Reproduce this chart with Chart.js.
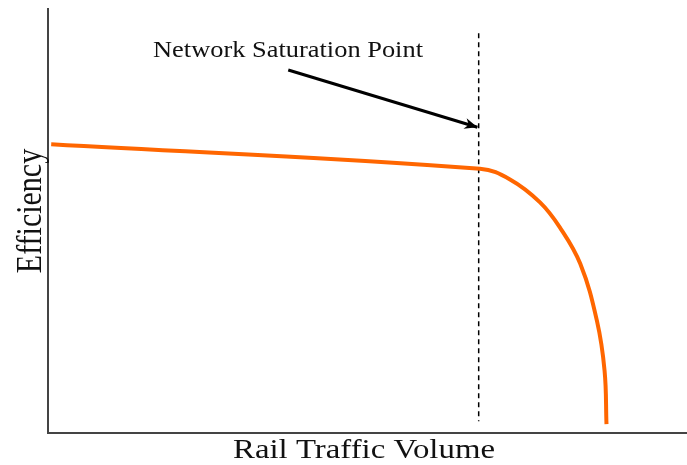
<!DOCTYPE html>
<html>
<head>
<meta charset="utf-8">
<script src="https://cdn.jsdelivr.net/npm/chart.js@4/dist/chart.umd.min.js"></script>
<style>
  body { margin: 0; background: #fff; }
</style>
</head>
<body>
<canvas id="chart" width="687" height="465"></canvas>
<script>
// efficiency curve (x = traffic volume, y = efficiency, both 0..100)
var volume     = [0.5, 67.6, 72.3, 77.0, 80.1, 83.3, 85.9, 87.1, 87.4];
var efficiency = [68.1, 62.3, 59.8, 54.4, 48.5, 39.9, 26.5, 14.7, 2.1];

// saturation marker and arrow
var saturationX = [67.4, 67.4];
var saturationY = [94.3, 2.8];
var arrowX = [37.6, 67.2];
var arrowY = [85.6, 72.1];

var labelText = 'Network Saturation Point';
var xTitle = 'Rail Traffic Volume';
var yTitle = 'Efficiency';

function pts(xs, ys) {
    return xs.map(function (x, i) { return { x: x, y: ys[i] }; });
}

// the text in the picture is stretched sideways, so draw it by hand
var textPlugin = {
    id: 'texts',
    afterDraw: function (chart) {
        var ctx = chart.ctx;
        var sx = chart.scales.x, sy = chart.scales.y;

        // arrow head
        var a = chart.data.datasets[2].data;
        var x0 = sx.getPixelForValue(a[0].x), y0 = sy.getPixelForValue(a[0].y);
        var x1 = sx.getPixelForValue(a[1].x), y1 = sy.getPixelForValue(a[1].y);
        var ang = Math.atan2(y1 - y0, x1 - x0);
        ctx.save();
        ctx.fillStyle = '#000';
        ctx.beginPath();
        ctx.moveTo(x1, y1);
        ctx.lineTo(x1 - 14 * Math.cos(ang - 0.4), y1 - 14 * Math.sin(ang - 0.4));
        ctx.lineTo(x1 - 9 * Math.cos(ang), y1 - 9 * Math.sin(ang));
        ctx.lineTo(x1 - 14 * Math.cos(ang + 0.4), y1 - 14 * Math.sin(ang + 0.4));
        ctx.closePath();
        ctx.fill();
        ctx.restore();

        ctx.save();
        ctx.fillStyle = '#111';
        ctx.textBaseline = 'alphabetic';

        // annotation
        ctx.font = '23px "Liberation Serif"';
        var w = ctx.measureText(labelText).width;
        ctx.save();
        ctx.translate(153, 57);
        ctx.scale(270 / w, 1);
        ctx.textAlign = 'left';
        ctx.fillText(labelText, 0, 0);
        ctx.restore();

        // x title
        ctx.font = '27px "Liberation Serif"';
        w = ctx.measureText(xTitle).width;
        ctx.save();
        ctx.translate(364, 458);
        ctx.scale(262 / w, 1);
        ctx.textAlign = 'center';
        ctx.fillText(xTitle, 0, 0);
        ctx.restore();

        // y title
        ctx.font = '30px "Liberation Serif"';
        ctx.save();
        ctx.translate(41, 211);
        ctx.rotate(-Math.PI / 2);
        ctx.scale(1, 1.2);
        ctx.textAlign = 'center';
        ctx.fillText(yTitle, 0, 0);
        ctx.restore();

        ctx.restore();
    }
};

var ctx = document.getElementById('chart').getContext('2d');
var chart = new Chart(ctx, {
    type: 'line',
    data: {
        datasets: [{
            data: pts(volume, efficiency),
            borderColor: '#ff6600',
            borderWidth: 4,
            pointRadius: 0,
            tension: 0.4,
            fill: false
        }, {
            data: pts(saturationX, saturationY),
            borderColor: '#000',
            borderWidth: 1.5,
            borderDash: [5, 4],
            pointRadius: 0,
            fill: false
        }, {
            data: pts(arrowX, arrowY),
            borderColor: '#000',
            borderWidth: 3,
            pointRadius: 0,
            fill: false
        }]
    },
    options: {
        responsive: false,
        animation: false,
        layout: {
            padding: { left: 40, right: 0, top: 9, bottom: 24 }
        },
        plugins: {
            legend: { display: false },
            tooltip: { enabled: false }
        },
        scales: {
            x: {
                type: 'linear',
                min: 0,
                max: 100,
                grid: { display: false },
                ticks: { display: false },
                border: { color: '#444', width: 2 }
            },
            y: {
                type: 'linear',
                min: 0,
                max: 100,
                grid: { display: false },
                ticks: { display: false },
                border: { color: '#444', width: 2 }
            }
        }
    },
    plugins: [textPlugin]
});
</script>
</body>
</html>
